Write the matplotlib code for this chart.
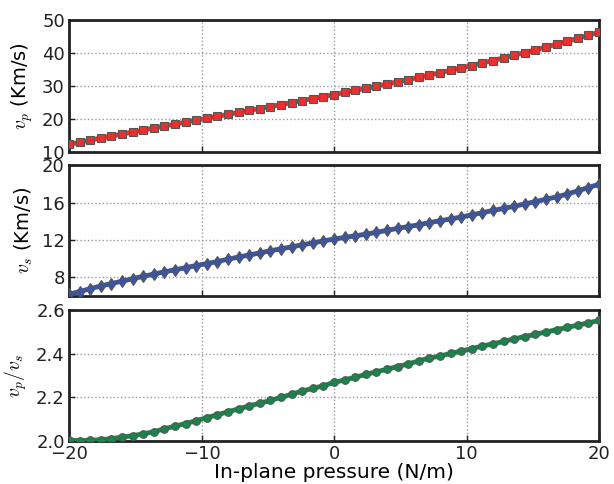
import matplotlib
matplotlib.use("Agg")
import matplotlib.pyplot as plt

pressure = [-20 + 0.8 * i for i in range(51)]

vp = [12.30, 12.94, 13.57, 14.20, 14.82, 15.43, 16.04, 16.65, 17.25, 17.85,
      18.44, 19.04, 19.63, 20.22, 20.81, 21.39, 21.98, 22.57, 23.17, 23.76,
      24.36, 24.96, 25.56, 26.17, 26.78, 27.40, 28.03, 28.66, 29.30, 29.94,
      30.60, 31.26, 31.93, 32.62, 33.31, 34.01, 34.73, 35.46, 36.20, 36.96,
      37.72, 38.51, 39.31, 40.12, 40.95, 41.80, 42.66, 43.54, 44.45, 45.36,
      46.30]

vs = [6.20, 6.50, 6.80, 7.10, 7.35, 7.60, 7.87, 8.12, 8.36, 8.60,
      8.82, 9.05, 9.27, 9.48, 9.70, 9.95, 10.18, 10.40, 10.62, 10.85,
      11.06, 11.27, 11.48, 11.69, 11.90, 12.10, 12.27, 12.44, 12.62, 12.82,
      13.03, 13.24, 13.43, 13.63, 13.86, 14.05, 14.25, 14.45, 14.68, 14.92,
      15.15, 15.37, 15.60, 15.85, 16.10, 16.35, 16.60, 16.90, 17.25, 17.60,
      17.95]

ratio = [2.003, 2.002, 2.003, 2.006, 2.011, 2.018, 2.024, 2.033, 2.042, 2.056,
         2.068, 2.080, 2.093, 2.107, 2.120, 2.134, 2.147, 2.161, 2.173, 2.186,
         2.200, 2.214, 2.229, 2.241, 2.253, 2.268, 2.280, 2.292, 2.305, 2.317,
         2.329, 2.341, 2.353, 2.367, 2.380, 2.389, 2.401, 2.412, 2.423, 2.435,
         2.445, 2.456, 2.468, 2.478, 2.489, 2.499, 2.510, 2.520, 2.531, 2.541,
         2.552]

xticks = [-20, -10, 0, 10, 20]
vp_ticks = [10, 20, 30, 40, 50]
vs_ticks = [8, 12, 16, 20]
ratio_ticks = [2.0, 2.2, 2.4, 2.6]

plt.rcParams['mathtext.fontset'] = 'cm'
plt.rcParams['font.family'] = ['DejaVu Sans']

fig = plt.figure(figsize=(6.14, 4.84), dpi=100)
left, width = 0.1124, 0.8632
ax1 = fig.add_axes([left, 0.686, width, 0.2727])
ax2 = fig.add_axes([left, 0.388, width, 0.271])
ax3 = fig.add_axes([left, 0.0888, width, 0.2707])

specs = [
    (ax1, vp, '#e8302f', 's', 5.5, vp_ticks, (10, 50), r'$v_p$ (Km/s)', ['10', '20', '30', '40', '50']),
    (ax2, vs, '#3a55a6', 'd', 6.5, vs_ticks, (6, 20), r'$v_s$ (Km/s)', ['8', '12', '16', '20']),
    (ax3, ratio, '#14874a', 'o', 5.5, ratio_ticks, (2.0, 2.6), r'$v_p/v_s$', ['2.0', '2.2', '2.4', '2.6']),
]

for ax, data, col, mk, ms, yt, yl, lab, ytl in specs:
    ax.plot(pressure, data, color=col, lw=3.5, marker=mk, markersize=ms,
            markerfacecolor=col, markeredgecolor='#555555', markeredgewidth=0.8,
            clip_on=True, zorder=3)
    ax.set_xlim(-20, 20)
    ax.set_ylim(*yl)
    ax.set_xticks(xticks)
    ax.set_yticks(yt)
    ax.set_yticklabels(ytl)
    ax.grid(True, color='#999999', linestyle=':', linewidth=1.0)
    ax.tick_params(direction='in', length=4, width=1, labelsize=13, pad=3, colors='#222222')
    for s in ax.spines.values():
        s.set_linewidth(2.0)
        s.set_color('#222222')
    ax.set_ylabel(lab, fontsize=14, labelpad=5)

ax1.tick_params(labelbottom=False)
ax2.tick_params(labelbottom=False)
ax3.set_xticklabels(['\u221220', '\u221210', '0', '10', '20'])
ax3.set_xlabel('In-plane pressure (N/m)', fontsize=14.5, labelpad=0)

fig.savefig('out.png', dpi=100)
